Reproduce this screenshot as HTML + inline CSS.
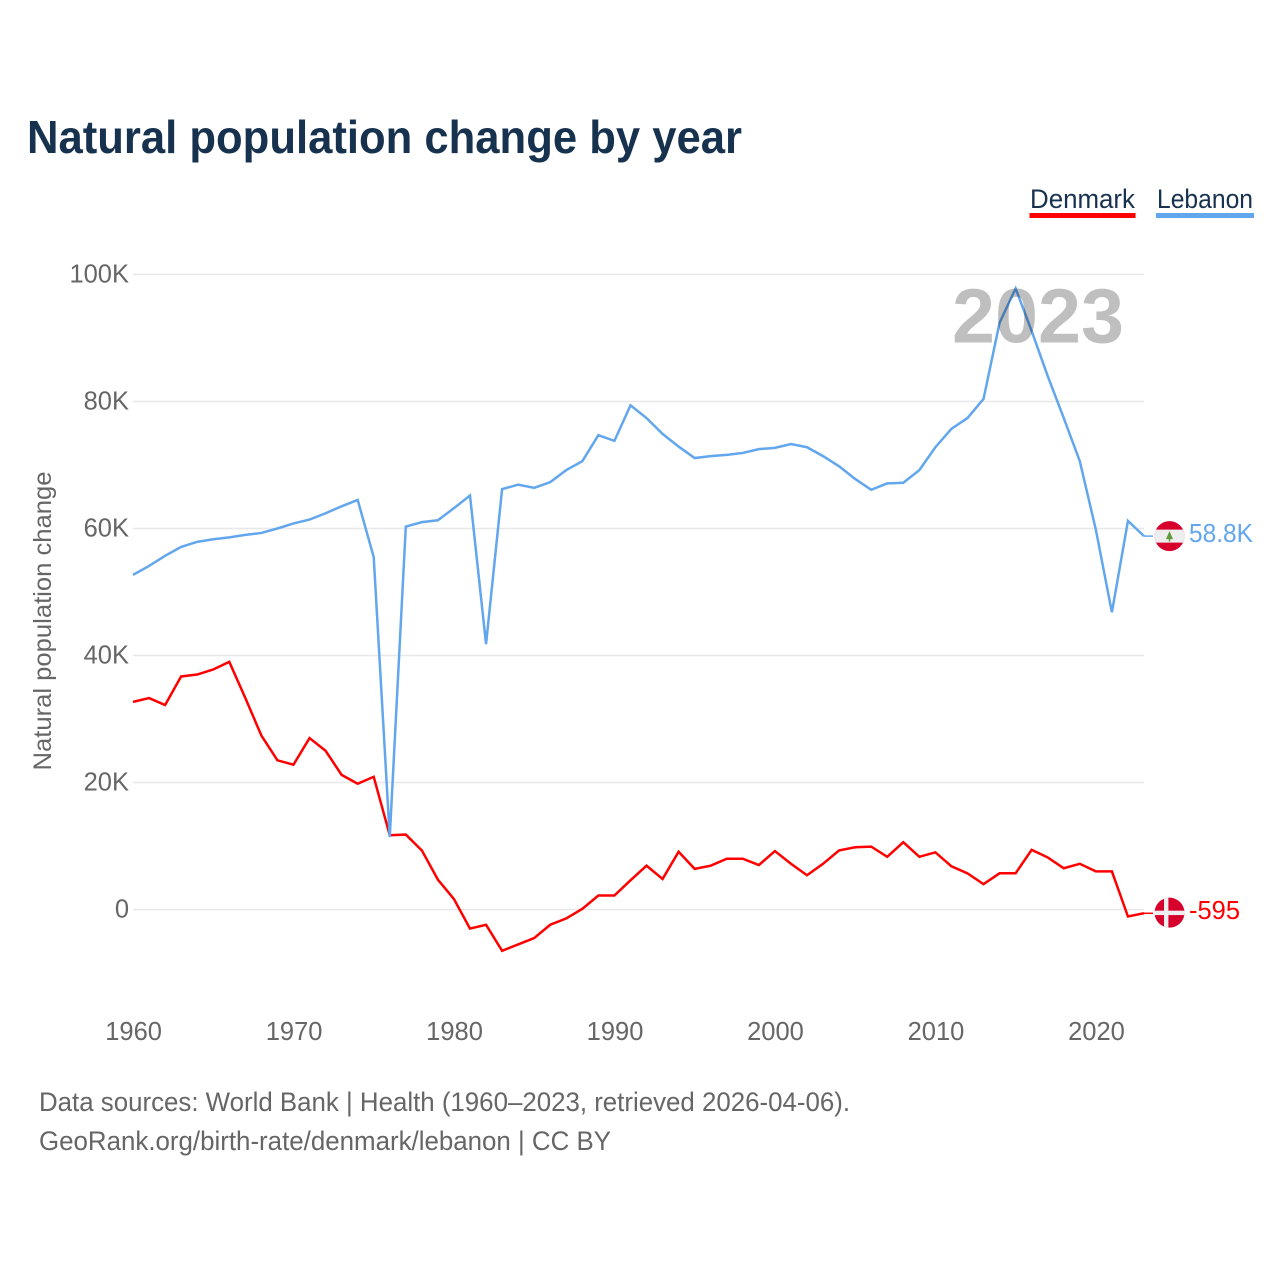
<!DOCTYPE html>
<html lang="en">
<head>
<meta charset="utf-8">
<title>Natural population change by year</title>
<style>
html,body{margin:0;padding:0;background:#fff;width:1280px;height:1280px;overflow:hidden}
svg{display:block}
text{font-family:"Liberation Sans",sans-serif}
.tick{font-size:25.5px;fill:#666}
.foot{font-size:26.5px;fill:#666}
</style>
</head>
<body>
<svg id="chart" xmlns="http://www.w3.org/2000/svg" width="1280" height="1280" viewBox="0 0 1280 1280">
  <text x="27" y="153" font-size="46.5" font-weight="700" fill="#17324f" textLength="715" lengthAdjust="spacingAndGlyphs">Natural population change by year</text>

  <g>
    <g>
      <text x="1030" y="208" font-size="26.5" fill="#17324f" textLength="105" lengthAdjust="spacingAndGlyphs">Denmark</text>
      <rect x="1029.5" y="213" width="106" height="5" fill="#ff0000"></rect>
    </g>
    <g>
      <text x="1157" y="208" font-size="26.5" fill="#17324f" textLength="96" lengthAdjust="spacingAndGlyphs">Lebanon</text>
      <rect x="1156" y="213" width="98" height="5" fill="#62a6ee"></rect>
    </g>
  </g>

  <g id="grid"></g>
  <g id="yticks"></g>
  <g id="xticks"></g>
  <text transform="translate(51,621) rotate(-90)" text-anchor="middle" font-size="25" fill="#666" textLength="299" lengthAdjust="spacingAndGlyphs">Natural population change</text>

  <g id="series"></g>

  <text x="952" y="342.5" font-size="77" font-weight="700" fill="#000" fill-opacity="0.25" textLength="172" lengthAdjust="spacingAndGlyphs">2023</text>

  <g id="markers"></g>

  <text class="foot" x="39" y="1111" textLength="811" lengthAdjust="spacingAndGlyphs">Data sources: World Bank | Health (1960–2023, retrieved 2026-04-06).</text>
  <text class="foot" x="39" y="1150" textLength="572" lengthAdjust="spacingAndGlyphs">GeoRank.org/birth-rate/denmark/lebanon | CC BY</text>
</svg>
<script>
var firstYear = 1960;
var denmarkValues = [32.7,33.3,32.2,36.7,37.0,37.8,39.0,33.3,27.4,23.5,22.8,27.0,25.0,21.2,19.8,20.9,11.7,11.8,9.3,4.7,1.65,-3.0,-2.4,-6.5,-5.5,-4.5,-2.4,-1.4,0.1,2.2,2.2,4.6,6.9,4.8,9.1,6.4,6.9,8.0,8.0,7.0,9.2,7.2,5.4,7.2,9.3,9.8,9.9,8.3,10.6,8.3,9.0,6.8,5.7,4.0,5.7,5.7,9.4,8.2,6.5,7.2,6.0,6.0,-1.1,-0.595];
var lebanonValues = [52.7,54.1,55.7,57.1,57.9,58.3,58.6,59.0,59.3,60.0,60.8,61.4,62.4,63.5,64.5,55.5,11.4,60.3,61.0,61.3,63.2,65.2,41.8,66.2,66.9,66.4,67.3,69.2,70.6,74.7,73.8,79.4,77.4,74.9,72.9,71.1,71.4,71.6,71.9,72.5,72.7,73.3,72.8,71.4,69.8,67.8,66.1,67.1,67.2,69.2,72.8,75.7,77.4,80.4,92.4,97.8,91.1,84.0,77.4,70.6,59.8,46.8,61.2,58.8];
var yTicks = [0,20,40,60,80,100];
var xTicks = [1960,1970,1980,1990,2000,2010,2020];
var denmarkLabel = "-595";
var lebanonLabel = "58.8K";

var NS = "http://www.w3.org/2000/svg";
function xScale(year){ return 133 + (year - 1960) * (1144 - 133) / 63; }
function yScale(v){ return 909.5 - v * 6.35; }
function make(tag, attrs, parent, txt){
  var el = document.createElementNS(NS, tag);
  for (var k in attrs) el.setAttribute(k, attrs[k]);
  if (txt !== undefined) el.textContent = txt;
  parent.appendChild(el);
  return el;
}
var grid = document.getElementById("grid");
var yG = document.getElementById("yticks");
var xG = document.getElementById("xticks");
var seriesG = document.getElementById("series");
var markG = document.getElementById("markers");

yTicks.forEach(function(t){
  var line = make("line", {x1:133, x2:1144, y1:yScale(t), y2:yScale(t), stroke:"#e8e8e8", "stroke-width":1.5}, grid);
  
  
  var lab = make("text", {"class":"tick", x:129, y:yScale(t)+8, "text-anchor":"end"}, yG, t === 0 ? "0" : t + "K");
  
  
});
xTicks.forEach(function(t){
  var lab = make("text", {"class":"tick", x:xScale(t)+0.6, y:1040, "text-anchor":"middle"}, xG, String(t));
  
  
});
function linePath(vals){
  return vals.map(function(v,i){
    return (i ? "L" : "M") + xScale(firstYear + i).toFixed(2) + " " + yScale(v).toFixed(2);
  }).join("");
}
var redPath = make("path", {d:linePath(denmarkValues), fill:"none", stroke:"#ff0000", "stroke-width":2.5, "stroke-linejoin":"miter"}, seriesG);


var bluePath = make("path", {d:linePath(lebanonValues), fill:"none", stroke:"#62a6ee", "stroke-width":2.5, "stroke-linejoin":"miter"}, seriesG);



var redEnd = yScale(denmarkValues[denmarkValues.length-1]);
var blueEnd = yScale(lebanonValues[lebanonValues.length-1]);

var conn1 = make("line", {x1:1144, x2:1153, y1:blueEnd, y2:blueEnd, stroke:"#62a6ee", "stroke-width":1.5}, markG);


var conn2 = make("line", {x1:1144, x2:1153, y1:redEnd, y2:redEnd, stroke:"#ff0000", "stroke-width":1.5}, markG);



var defs = make("defs", {}, markG);
var cpA = make("clipPath", {id:"clipLb"}, defs);
make("circle", {cx:1169.5, cy:blueEnd, r:15}, cpA);
var cpB = make("clipPath", {id:"clipDk"}, defs);
make("circle", {cx:1169.5, cy:redEnd - 0.6, r:15}, cpB);

var lb = make("g", {"clip-path":"url(#clipLb)"}, markG);


make("rect", {x:1154, y:blueEnd-16, width:32, height:32, fill:"#d7002d"}, lb);
make("rect", {x:1154, y:blueEnd-6.5, width:32, height:13, fill:"#eeeeee"}, lb);
make("path", {d:"M1169.5 "+(blueEnd-5)+"l3.5 8h-2.8v2.5h-1.4v-2.5h-2.8z", fill:"#5f9a3c"}, lb);

var dk = make("g", {"clip-path":"url(#clipDk)"}, markG);


make("rect", {x:1153, y:redEnd-17, width:33, height:33, fill:"#d7002d"}, dk);
make("rect", {x:1164, y:redEnd-17, width:4.4, height:33, fill:"#eeeeee"}, dk);
make("rect", {x:1153, y:redEnd-2.6, width:33, height:4.4, fill:"#eeeeee"}, dk);

var l1 = make("text", {x:1189, y:blueEnd+6, "font-size":25.5, fill:"#62a6ee", textLength:64, lengthAdjust:"spacingAndGlyphs"}, markG, lebanonLabel);


var l2 = make("text", {x:1189, y:redEnd+5.5, "font-size":25.5, fill:"#ff0000", textLength:51, lengthAdjust:"spacingAndGlyphs"}, markG, denmarkLabel);


</script>
</body>
</html>
